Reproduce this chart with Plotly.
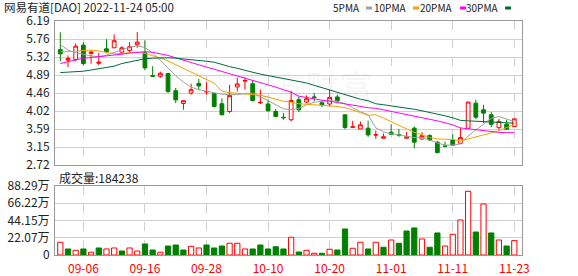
import plotly.graph_objects as go

# ---------------- data ----------------
dates = ["08-31", "09-01", "09-02", "09-06", "09-07", "09-08", "09-09", "09-12", "09-13", "09-14",
         "09-15", "09-16", "09-19", "09-20", "09-21", "09-22", "09-23", "09-26", "09-27", "09-28",
         "09-29", "09-30", "10-03", "10-04", "10-05", "10-06", "10-07", "10-10", "10-11", "10-12",
         "10-13", "10-14", "10-17", "10-18", "10-19", "10-20", "10-21", "10-24", "10-25", "10-26",
         "10-27", "10-28", "10-31", "11-01", "11-02", "11-03", "11-04", "11-07", "11-08", "11-09",
         "11-10", "11-11", "11-14", "11-15", "11-16", "11-17", "11-18", "11-21", "11-22", "11-23"]

open_ = [5.50, 5.245, 5.262, 5.608, 5.41, 5.17, 5.52, 5.545, 5.439, 5.48,
         5.618, 5.424, 4.87, 4.857, 4.923, 4.51, 4.203, 4.455, 4.688, 4.48,
         4.438, 4.196, 4.01, 4.60, 4.74, 4.68, 4.22, 4.19, 4.01, 3.87,
         3.81, 4.293, 4.237, 4.36, 4.22, 4.19, 4.36, 3.93, 3.628, 3.59,
         3.607, 3.44, 3.365, 3.51, 3.45, 3.365, 3.607, 3.348, 3.428, 3.27,
         3.18, 3.32, 3.244, 3.607, 4.21, 4.05, 3.93, 3.62, 3.703, 3.646]
high = [5.92, 5.36, 5.65, 5.68, 5.48, 5.425, 5.75, 5.868, 5.584, 5.68,
        5.923, 5.72, 5.10, 4.97, 4.94, 4.576, 4.27, 4.68, 4.794, 4.712,
        4.455, 4.324, 4.654, 4.818, 4.83, 4.77, 4.535, 4.29, 4.07, 3.97,
        4.51, 4.373, 4.397, 4.455, 4.27, 4.535, 4.414, 3.93, 3.784, 3.767,
        3.79, 3.55, 3.48, 3.70, 3.59, 3.52, 3.646, 3.51, 3.46, 3.30,
        3.285, 3.46, 3.607, 4.24, 4.293, 4.17, 3.995, 3.83, 3.81, 3.832]
low = [5.22, 5.075, 5.22, 5.117, 5.16, 5.117, 5.41, 5.545, 5.383, 5.425,
       5.545, 5.003, 4.84, 4.82, 4.455, 4.213, 4.05, 4.414, 4.518, 4.414,
       4.106, 3.92, 3.97, 4.494, 4.535, 4.25, 4.19, 4.01, 3.873, 3.81,
       3.77, 3.995, 4.213, 4.25, 4.116, 4.13, 4.213, 3.583, 3.62, 3.59,
       3.40, 3.35, 3.365, 3.445, 3.40, 3.365, 3.12, 3.325, 3.30, 3.00,
       3.15, 3.18, 3.22, 3.60, 3.825, 3.73, 3.63, 3.57, 3.566, 3.64]
close = [5.40, 5.286, 5.584, 5.165, 5.44, 5.20, 5.45, 5.715, 5.545, 5.57,
         5.681, 5.06, 4.86, 4.93, 4.494, 4.29, 4.27, 4.535, 4.625, 4.49,
         4.13, 3.93, 4.397, 4.673, 4.755, 4.276, 4.23, 4.026, 3.888, 3.86,
         4.276, 4.05, 4.317, 4.35, 4.17, 4.35, 4.27, 3.625, 3.64, 3.687,
         3.445, 3.45, 3.40, 3.46, 3.44, 3.40, 3.27, 3.428, 3.323, 3.02,
         3.17, 3.20, 3.38, 4.237, 3.873, 3.97, 3.70, 3.767, 3.583, 3.832]

ma5 = [5.625, 5.487, 5.424, 5.383, 5.35, 5.327, 5.366, 5.432, 5.504, 5.56,
       5.59, 5.553, 5.42, 5.238, 5.068, 4.874, 4.717, 4.596, 4.535, 4.494,
       4.462, 4.426, 4.414, 4.414, 4.438, 4.45, 4.365, 4.27, 4.172, 4.075,
       4.05, 4.087, 4.172, 4.232, 4.257, 4.27, 4.257, 4.196, 4.10, 4.002,
       3.93, 3.615, 3.52, 3.47, 3.445, 3.41, 3.38, 3.372, 3.323, 3.25,
       3.20, 3.20, 3.227, 3.42, 3.566, 3.71, 3.845, 3.888, 3.82, 3.767]
ma10 = [5.45, 5.45, 5.456, 5.48, 5.487, 5.468, 5.432, 5.40, 5.407, 5.432,
        5.44, 5.407, 5.36, 5.30, 5.226, 5.14, 5.044, 4.96, 4.874, 4.79,
        4.692, 4.50, 4.462, 4.45, 4.438, 4.43, 4.40, 4.358, 4.305, 4.257,
        4.232, 4.196, 4.184, 4.172, 4.16, 4.147, 4.13, 4.10, 4.05, 3.985,
        3.917, 3.93, 3.85, 3.76, 3.676, 3.59, 3.505, 3.445, 3.384, 3.348,
        3.336, 3.336, 3.30, 3.348, 3.384, 3.433, 3.493, 3.549, 3.614, 3.695]
ma20 = [5.165, 5.214, 5.262, 5.294, 5.31, 5.327, 5.35, 5.37, 5.39, 5.415,
        5.44, 5.45, 5.436, 5.40, 5.36, 5.303, 5.238, 5.19, 5.134, 5.08,
        5.027, 4.988, 4.928, 4.867, 4.814, 4.76, 4.705, 4.656, 4.596, 4.535,
        4.475, 4.378, 4.34, 4.31, 4.28, 4.256, 4.227, 4.196, 4.16, 4.123,
        4.10, 4.087, 4.05, 4.014, 3.978, 3.94, 3.905, 3.864, 3.825, 3.784,
        3.736, 3.687, 3.614, 3.59, 3.566, 3.542, 3.518, 3.506, 3.50, 3.50]
ma30 = [4.947, 4.954, 4.96, 4.98, 5.01, 5.04, 5.06, 5.10, 5.165, 5.206,
        5.245, 5.28, 5.294, 5.303, 5.303, 5.294, 5.28, 5.26, 5.24, 5.22,
        5.197, 5.14, 5.09, 5.05, 5.01, 4.955, 4.91, 4.874, 4.84, 4.795,
        4.76, 4.73, 4.697, 4.64, 4.584, 4.523, 4.462, 4.414, 4.358, 4.305,
        4.268, 4.196, 4.172, 4.147, 4.123, 4.099, 4.063, 4.026, 3.99, 3.954,
        3.905, 3.857, 3.796, 3.784, 3.772, 3.76, 3.748, 3.736, 3.728, 3.728]

volume_wan = [16.3, 7.7, 6.0, 7.7, 3.5, 9.0, 7.7, 9.0, 5.1, 9.0,
              5.1, 14.1, 6.4, 3.5, 11.5, 12.8, 6.4, 11.1, 9.0, 12.8,
              9.0, 11.5, 15.0, 15.0, 7.7, 7.7, 12.8, 7.7, 10.6, 7.7,
              22.7, 3.8, 6.0, 2.2, 2.2, 7.3, 6.4, 33.3, 8.6, 16.3,
              7.7, 16.3, 9.9, 19.2, 15.0, 30.7, 34.6, 20.5, 9.9, 28.2,
              11.5, 26.5, 44.8, 81.5, 29.4, 65.3, 28.2, 19.2, 11.5, 18.4238]
# volume colour: 1 = close up vs previous close (red), 0 = down (green)
vol_up = [1, 0, 1, 0, 1, 0, 1, 1, 0, 1, 1, 0, 0, 1, 0, 0, 0, 1, 1, 0,
          0, 0, 1, 1, 1, 0, 0, 0, 0, 0, 1, 0, 1, 1, 0, 1, 0, 0, 1, 1,
          0, 1, 0, 1, 0, 0, 0, 1, 0, 0, 1, 1, 1, 1, 0, 1, 0, 1, 0, 1]

price_ticks = ["2.72", "3.15", "3.59", "4.02", "4.46", "4.89", "5.32", "5.76", "6.19"]
vol_ticks = ["0", "22.07万", "44.15万", "66.22万", "88.29万"]
date_ticks = ["09-06", "09-16", "09-28", "10-10", "10-20", "11-01", "11-11", "11-23"]
last_volume = "184238"

# ---------------- styling ----------------
W, H = 578, 276
L, R, T, B = 55, 56, 21, 21
RED = "#ff0000"
GREEN = "#008000"
ma_colors = {"5PMA": "#a0a0a0", "10PMA": "#f5a100", "20PMA": "#ff00ff", "30PMA": "#006b3c"}
FONT = "Noto Sans CJK SC"
TXT = "#222222"

plot_h = H - T - B
def py(px):  # pixel y -> paper y
    return (H - B - px) / plot_h
def pxx(px):  # pixel x -> paper x
    return (px - L) / (W - L - R)

pmin, pmax = float(price_ticks[0]), float(price_ticks[-1])
pstep = (pmax - pmin) / (len(price_ticks) - 1)
vmax = float(vol_ticks[-1].replace("万", ""))
vstep = vmax / (len(vol_ticks) - 1)

fig = go.Figure()

fig.add_trace(go.Candlestick(
    x=dates, open=open_, high=high, low=low, close=close,
    increasing=dict(line=dict(color=RED, width=1), fillcolor="white"),
    decreasing=dict(line=dict(color=GREEN, width=1), fillcolor=GREEN),
    whiskerwidth=0, xaxis="x", yaxis="y", showlegend=False, hoverinfo="skip"))

for name, vals in [("5PMA", ma5), ("10PMA", ma10), ("20PMA", ma20), ("30PMA", ma30)]:
    fig.add_trace(go.Scatter(x=dates, y=vals, mode="lines",
                             line=dict(color=ma_colors[name], width=1),
                             xaxis="x", yaxis="y", showlegend=False, hoverinfo="skip"))

fig.add_trace(go.Bar(
    x=dates, y=volume_wan,
    marker=dict(color=["white" if u else GREEN for u in vol_up],
                line=dict(color=[RED if u else GREEN for u in vol_up], width=1)),
    width=0.68, xaxis="x2", yaxis="y2", showlegend=False, hoverinfo="skip"))

axis_common = dict(showline=True, linecolor="#999999", linewidth=1, mirror=True,
                   ticks="", zeroline=False, automargin=False)
xr = [-0.69, len(dates) - 1 + 1.0]

fig.update_layout(
    width=W, height=H, margin=dict(l=L, r=R, t=T, b=B, autoexpand=False),
    paper_bgcolor="white", plot_bgcolor="white",
    font=dict(family=FONT, size=12, color=TXT),
    xaxis=dict(domain=[0, 1], anchor="y", type="category", range=xr,
               tickvals=date_ticks, ticktext=["" for _ in date_ticks],
               showgrid=True, gridcolor="#d0d0d0", griddash="dash", gridwidth=1,
               rangeslider=dict(visible=False), showticklabels=False, **axis_common),
    yaxis=dict(domain=[py(165), 1], anchor="x", range=[pmin, pmax],
               tickvals=[pmin + i * pstep for i in range(len(price_ticks))],
               ticktext=price_ticks, showgrid=True, gridcolor="#d0d0d0",
               tickfont=dict(size=12, color=TXT), ticklabelstandoff=2,
               **axis_common),
    xaxis2=dict(domain=[0, 1], anchor="y2", type="category", range=xr,
                tickvals=date_ticks, ticktext=date_ticks,
                showgrid=True, gridcolor="#d0d0d0", griddash="dash", gridwidth=1,
                tickfont=dict(size=12, color=RED), ticklabelstandoff=3, **axis_common),
    yaxis2=dict(domain=[0, py(186)], anchor="x2", range=[0, vmax],
                tickvals=[i * vstep for i in range(len(vol_ticks))],
                ticktext=vol_ticks, showgrid=True, gridcolor="#d0d0d0",
                tickfont=dict(size=12, color=TXT), ticklabelstandoff=2,
                **axis_common),
    bargap=0.3,
)

ann = []
ann.append(dict(text="网易有道[DAO] 2022-11-24 05:00", x=pxx(2), y=py(7.5),
                xref="paper", yref="paper", xanchor="left", yanchor="middle",
                showarrow=False, font=dict(size=11.5, color=TXT)))
ann.append(dict(text="成交量:" + last_volume, x=pxx(57), y=py(177),
                xref="paper", yref="paper", xanchor="left", yanchor="middle",
                showarrow=False, font=dict(size=12, color=TXT)))
ann.append(dict(text="东方财富", x=pxx(305), y=py(85),
                xref="paper", yref="paper", xanchor="center", yanchor="middle",
                showarrow=False, font=dict(size=34, color="rgba(0,0,0,0.05)")))

shapes = []
leg_pos = [("5PMA", 362, 366), ("10PMA", 409, 413), ("20PMA", 455, 460), ("30PMA", 501, 505)]
for name, tx_end, mx in leg_pos:
    ann.append(dict(text=name, x=pxx(tx_end), y=py(8), xref="paper", yref="paper",
                    xanchor="right", yanchor="middle", showarrow=False,
                    font=dict(size=10, color=TXT)))
    shapes.append(dict(type="line", xref="paper", yref="paper",
                       x0=pxx(mx), x1=pxx(mx + 6), y0=py(8), y1=py(8),
                       line=dict(color=ma_colors[name], width=3)))

fig.update_layout(annotations=ann, shapes=shapes)
fig.write_html("out.html")
